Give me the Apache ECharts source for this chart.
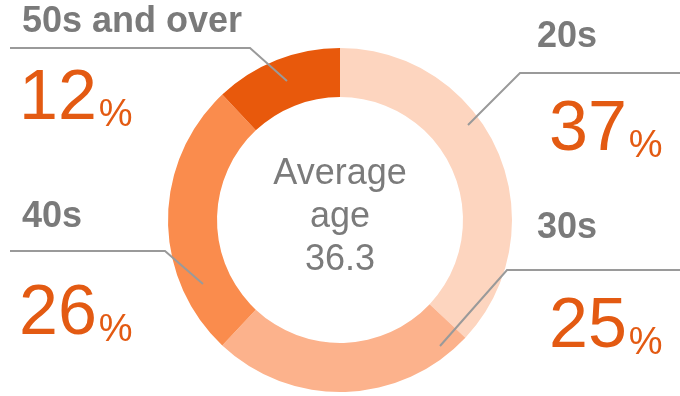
<!DOCTYPE html>
<html>
<head>
<meta charset="utf-8">
<script src="https://cdn.jsdelivr.net/npm/echarts@6/dist/echarts.min.js"></script>
<style>
  html, body { margin: 0; padding: 0; background: #fff; }
  #chart { width: 680px; height: 396px; }
</style>
</head>
<body>
<div id="chart"></div>
<script>
// data
const ageGroups = ["20s", "30s", "40s", "50s and over"];
const shares = [37, 25, 26, 12];
const averageAge = 36.3;

// styling / annotation layout (not data)
const sliceColors = ["#fdd5bf", "#fcb28c", "#fa8c4d", "#e8590c"];
const nameAt = [[537, 37], [537, 228], [22, 217], [22, 22]];
const pctAt = [[549, 131], [549, 328], [19, 315], [19, 100]];
const leaderLines = [
  [[468, 125], [520, 73], [680, 73]],
  [[440, 346], [507, 270], [680, 270]],
  [[203, 284], [165, 251], [10, 251]],
  [[287, 81], [250, 48], [10, 48]]
];

const pieData = ageGroups.map((name, i) => ({
  name: name,
  value: shares[i],
  itemStyle: { color: sliceColors[i] }
}));

const ring = {
  center: [340, 220],
  radius: [123, 172],
  startAngle: 90,
  avoidLabelOverlap: false,
  emphasis: { disabled: true },
  silent: true
};

let chart = echarts.init(document.getElementById("chart"), null, { renderer: "canvas" });

chart.setOption({
  animation: false,
  title: {
    text: "Average\nage\n" + averageAge,
    left: "center",
    top: 153,
    padding: 0,
    textStyle: {
      fontFamily: "Liberation Sans, Arial, sans-serif",
      fontSize: 36,
      fontWeight: "normal",
      lineHeight: 43,
      color: "#7b7b7b",
      align: "center"
    }
  },
  // leader lines drawn on top of the ring, like the original
  graphic: leaderLines.map((pts) => ({
    type: "polyline",
    z: 100,
    silent: true,
    shape: { points: pts },
    style: { stroke: "#9a9a9a", lineWidth: 2, fill: null }
  })),
  series: [
    Object.assign({}, ring, {
      name: "names",
      type: "pie",
      data: pieData,
      itemStyle: { borderWidth: 0 },
      label: {
        show: true,
        formatter: "{b}",
        fontFamily: "Liberation Sans, Arial, sans-serif",
        fontSize: 36,
        fontWeight: "bold",
        color: "#7a7a7a"
      },
      labelLine: { show: false },
      labelLayout: function (params) {
        const i = params.dataIndex;
        return {
          x: nameAt[i][0],
          y: nameAt[i][1],
          align: "left",
          verticalAlign: "middle"
        };
      }
    }),
    Object.assign({}, ring, {
      name: "shares",
      type: "pie",
      data: shares.map((v, i) => ({ name: ageGroups[i], value: v })),
      itemStyle: { color: "rgba(0,0,0,0)", borderWidth: 0 },
      label: {
        show: true,
        formatter: (p) => "{d|" + p.value + "}{s|%}",
        color: "#e35a12",
        rich: {
          d: {
            fontFamily: "Liberation Sans, Arial, sans-serif",
            fontSize: 70,
            lineHeight: 70,
            verticalAlign: "bottom",
            color: "#e35a12"
          },
          s: {
            fontFamily: "Liberation Sans, Arial, sans-serif",
            fontSize: 38,
            lineHeight: 48,
            verticalAlign: "bottom",
            padding: [0, 0, 0, 2],
            color: "#e35a12"
          }
        }
      },
      labelLine: { show: false },
      labelLayout: function (params) {
        const i = params.dataIndex;
        return {
          x: pctAt[i][0],
          y: pctAt[i][1],
          align: "left",
          verticalAlign: "middle"
        };
      }
    })
  ]
});

window.addEventListener("resize", function () {
  if (chart != null && chart != undefined) {
    chart.resize();
  }
});
</script>
</body>
</html>
